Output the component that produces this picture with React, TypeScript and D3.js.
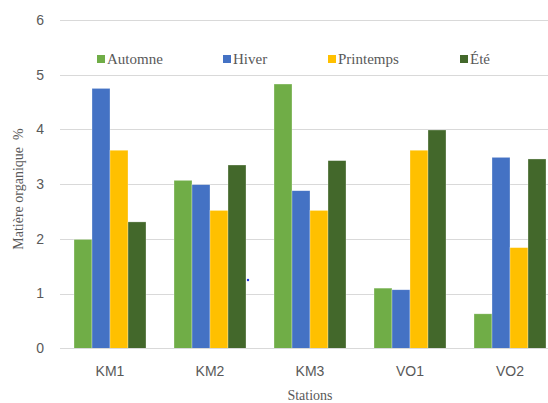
import { useEffect, useRef } from 'react';
import * as d3 from 'd3';

const stations = ['KM1', 'KM2', 'KM3', 'VO1', 'VO2'];
const seasons = ['Automne', 'Hiver', 'Printemps', 'Été'];
const automne = [1.99, 3.07, 4.83, 1.10, 0.63];
const hiver = [4.75, 2.99, 2.88, 1.07, 3.49];
const printemps = [3.62, 2.52, 2.52, 3.62, 1.84];
const ete = [2.31, 3.35, 3.43, 3.99, 3.46];
const yTicks = [0, 1, 2, 3, 4, 5, 6];
const colors = ['#70AD47', '#4472C4', '#FFC000', '#43682B'];

const W = 548;
const H = 403;

export default function App() {
  const svgRef = useRef<SVGSVGElement>(null);

  useEffect(() => {
    if (!svgRef.current) return;
    const svg = d3.select(svgRef.current);
    svg.selectAll('*').remove();

    const series = [automne, hiver, printemps, ete];

    const x = d3.scaleBand<string>()
      .domain(stations)
      .range([60, 560])
      .paddingInner(0.28)
      .paddingOuter(0.14);

    const xs = d3.scaleBand<string>()
      .domain(seasons)
      .range([0, x.bandwidth()]);

    const y = d3.scaleLinear().domain([0, 6]).range([348.3, 20]);

    // gridlines
    svg.append('g')
      .selectAll('line')
      .data(yTicks)
      .enter()
      .append('line')
      .attr('x1', 60)
      .attr('x2', W)
      .attr('y1', (d) => Math.round(y(d)) + 0.5)
      .attr('y2', (d) => Math.round(y(d)) + 0.5)
      .attr('stroke', '#d9d9d9')
      .attr('stroke-width', 1);

    // y tick labels
    svg.append('g')
      .selectAll('text')
      .data(yTicks)
      .enter()
      .append('text')
      .attr('x', 44)
      .attr('y', (d) => y(d))
      .attr('dy', '0.35em')
      .attr('text-anchor', 'end')
      .style('font-family', '"Liberation Sans", Arial, sans-serif')
      .style('font-size', '14px')
      .style('fill', '#595959')
      .text((d) => d);

    // bars
    const groups = svg.append('g')
      .selectAll('g')
      .data(stations)
      .enter()
      .append('g')
      .attr('transform', (d) => `translate(${x(d)},0)`);

    groups.selectAll('rect')
      .data((_, i) => seasons.map((s, k) => ({ s, k, v: series[k][i] })))
      .enter()
      .append('rect')
      .attr('x', (d) => xs(d.s)!)
      .attr('width', xs.bandwidth())
      .attr('y', (d) => y(d.v))
      .attr('height', (d) => y(0) - y(d.v))
      .attr('fill', (d) => colors[d.k])
      .attr('stroke', 'rgba(255,255,255,0.5)')
      .attr('stroke-width', 0.6);

    // baseline
    svg.append('line')
      .attr('x1', 60)
      .attr('x2', W)
      .attr('y1', Math.round(y(0)) + 0.5)
      .attr('y2', Math.round(y(0)) + 0.5)
      .attr('stroke', '#d9d9d9');

    // x tick labels
    svg.append('g')
      .selectAll('text')
      .data(stations)
      .enter()
      .append('text')
      .attr('x', (d) => x(d)! + x.bandwidth() / 2)
      .attr('y', 376)
      .attr('text-anchor', 'middle')
      .style('font-family', '"Liberation Sans", Arial, sans-serif')
      .style('font-size', '14px')
      .style('fill', '#595959')
      .text((d) => d);

    // axis titles
    svg.append('text')
      .attr('x', 310)
      .attr('y', 400)
      .attr('text-anchor', 'middle')
      .style('font-family', '"Liberation Serif", "Times New Roman", serif')
      .style('font-size', '14px')
      .style('fill', '#595959')
      .text('Stations');

    svg.append('text')
      .attr('transform', 'translate(23,189) rotate(-90)')
      .attr('text-anchor', 'middle')
      .style('font-family', '"Liberation Serif", "Times New Roman", serif')
      .style('font-size', '14px')
      .style('fill', '#595959')
      .attr('xml:space', 'preserve')
      .text('Matière organique  %');

    // legend
    const legendX = [97, 223, 328, 460];
    const legend = svg.append('g')
      .selectAll('g')
      .data(seasons)
      .enter()
      .append('g')
      .attr('transform', (_, i) => `translate(${legendX[i]},59)`);
    legend.append('rect')
      .attr('x', 0)
      .attr('y', -4)
      .attr('width', 8)
      .attr('height', 8)
      .attr('fill', (_, i) => colors[i]);
    legend.append('text')
      .attr('x', 10)
      .attr('y', 0)
      .attr('dy', '0.35em')
      .style('font-family', '"Liberation Serif", "Times New Roman", serif')
      .style('font-size', '15px')
      .style('fill', '#595959')
      .text((d) => d);

    // stray dot in the original
    svg.append('circle')
      .attr('cx', 248)
      .attr('cy', 280)
      .attr('r', 1.2)
      .attr('fill', '#2233dd');
  }, []);

  return (
    <svg
      ref={svgRef}
      width={W}
      height={H}
      style={{ position: 'absolute', left: 0, top: 0, background: '#fff', display: 'block' }}
    />
  );
}
